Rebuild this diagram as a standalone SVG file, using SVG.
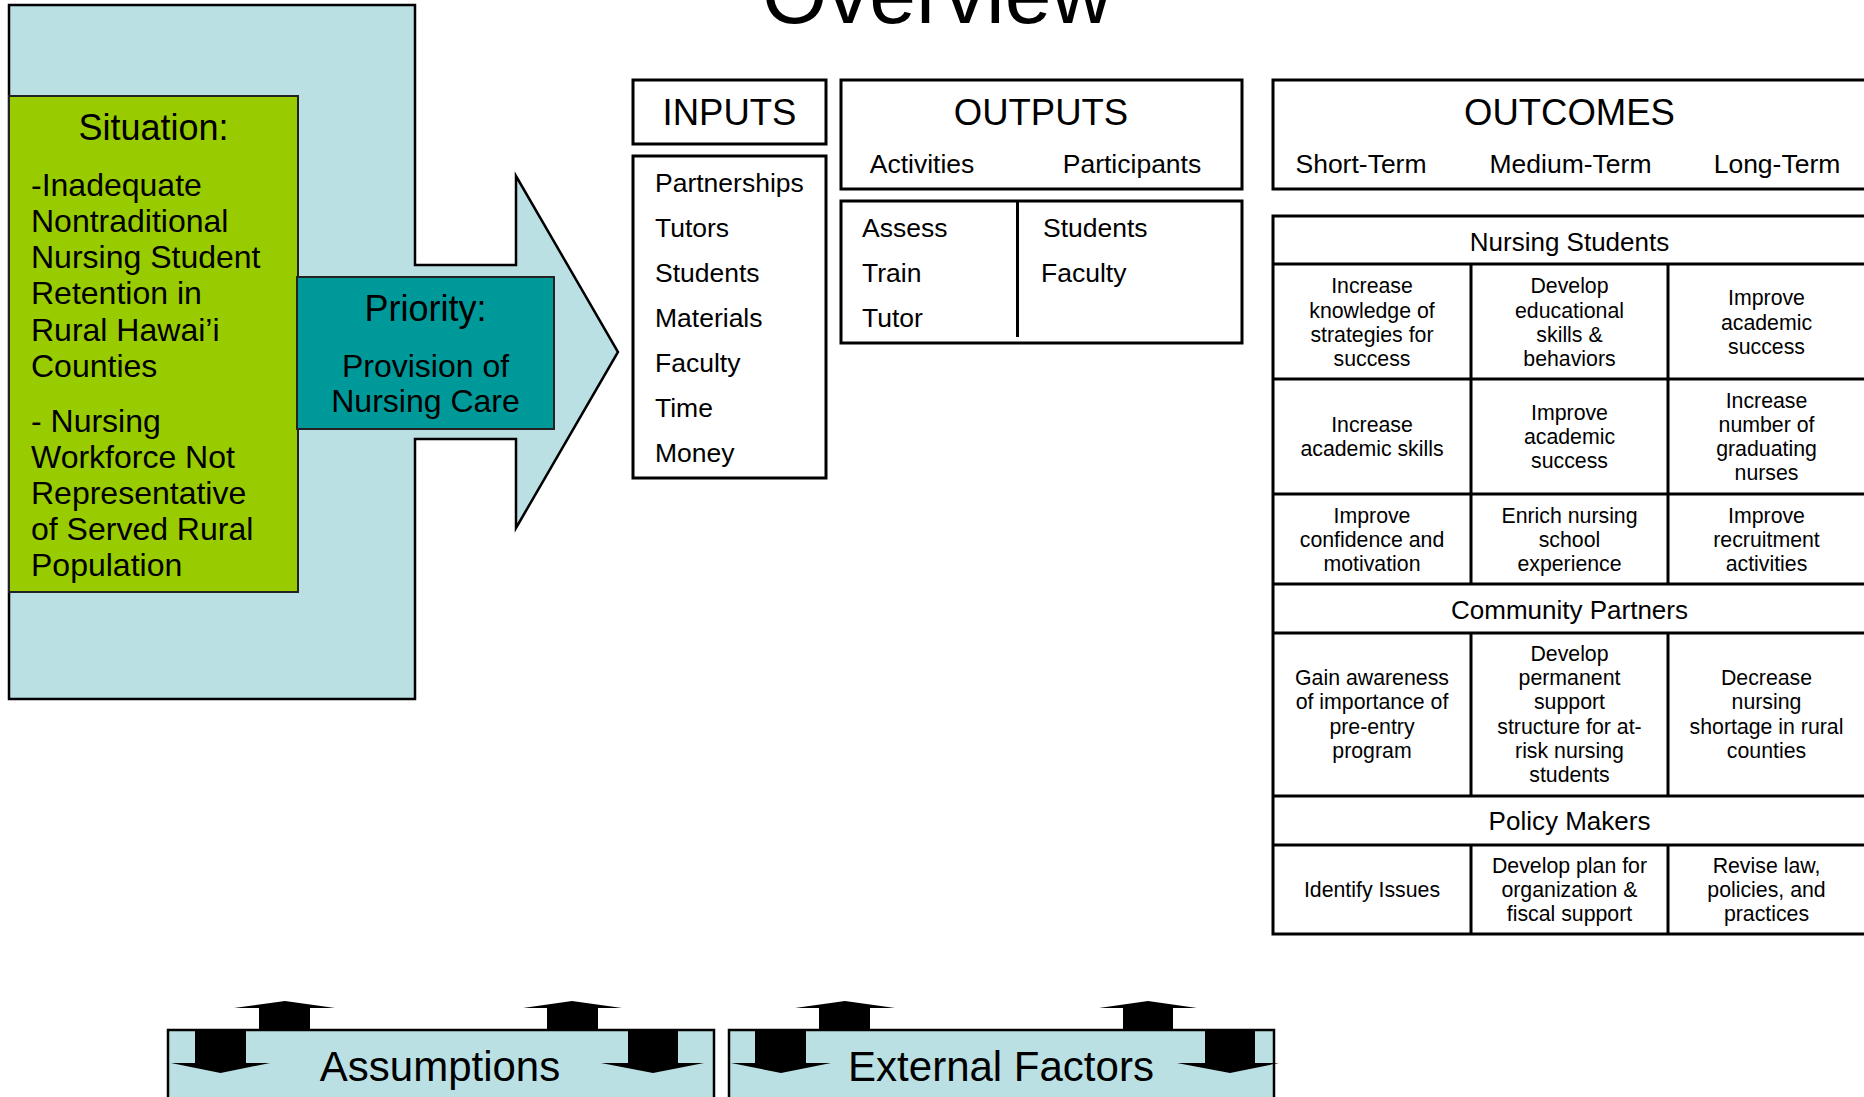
<svg xmlns="http://www.w3.org/2000/svg" width="1864" height="1097" viewBox="0 0 1864 1097">
<style>
text{font-family:"Liberation Sans",Arial,Helvetica,sans-serif;fill:#000}
.box{fill:#fff;stroke:#000;stroke-width:3}
.ln{stroke:#000;stroke-width:3;fill:none}
.h1{font-size:36.5px;text-anchor:middle}
.h2{font-size:26.5px}
.mid{text-anchor:middle}
.cell{font-size:21.3px;text-anchor:middle}
.hdr{font-size:26px;text-anchor:middle}
.big{font-size:32px}
.lab{font-size:36px;text-anchor:middle}
.bot{fill:#BBE0E3;stroke:#000;stroke-width:2.5}
.foot{font-size:42px;text-anchor:middle}
.arr{fill:#000}
</style>
<rect width="1864" height="1097" fill="#fff"/>
<g id="title"><text x="937" y="23" font-size="84" text-anchor="middle">Overview</text></g>

<g id="situation-frame">
<path d="M9,5 H415 V265 H516 V176 L618,352 L516,528 V439 H415 V699 H9 Z" fill="#BBE0E3" stroke="#000" stroke-width="2.5"/>
</g>
<g id="situation">
<rect x="9" y="96" width="289" height="496" fill="#99CC00" stroke="#222" stroke-width="2"/>
<text class="lab" x="153.5" y="140">Situation:</text>
<text class="big" x="31" y="196">-Inadequate</text>
<text class="big" x="31" y="232">Nontraditional</text>
<text class="big" x="31" y="268">Nursing Student</text>
<text class="big" x="31" y="304">Retention in</text>
<text class="big" x="31" y="340.5">Rural Hawai’i</text>
<text class="big" x="31" y="376.5">Counties</text>
<text class="big" x="31" y="431.5">- Nursing</text>
<text class="big" x="31" y="467.5">Workforce Not</text>
<text class="big" x="31" y="503.5">Representative</text>
<text class="big" x="31" y="539.5">of Served Rural</text>
<text class="big" x="31" y="575.5">Population</text>
</g>
<g id="priority">
<rect x="297" y="277" width="257" height="152" fill="#009999" stroke="#222" stroke-width="2"/>
<text class="lab" x="425.5" y="320.5">Priority:</text>
<text class="big mid" x="425.5" y="376.5">Provision of</text>
<text class="big mid" x="425.5" y="411.5">Nursing Care</text>
</g>

<g id="inputs">
<rect class="box" x="633" y="80" width="193" height="64"/>
<text class="h1" x="729.5" y="125">INPUTS</text>
<rect class="box" x="633" y="156" width="193" height="322"/>
<text class="h2" x="655" y="191.5">Partnerships</text>
<text class="h2" x="655" y="236.5">Tutors</text>
<text class="h2" x="655" y="281.5">Students</text>
<text class="h2" x="655" y="326.5">Materials</text>
<text class="h2" x="655" y="371.5">Faculty</text>
<text class="h2" x="655" y="416.5">Time</text>
<text class="h2" x="655" y="461.5">Money</text>
</g>

<g id="outputs">
<rect class="box" x="841" y="80" width="401" height="109"/>
<text class="h1" x="1041" y="124.5">OUTPUTS</text>
<text class="h2 mid" x="922" y="173">Activities</text>
<text class="h2 mid" x="1132" y="173">Participants</text>
<rect class="box" x="841" y="201" width="401" height="142"/>
<line class="ln" x1="1017.5" y1="201" x2="1017.5" y2="337"/>
<text class="h2" x="862" y="236.5">Assess</text>
<text class="h2" x="862" y="281.5">Train</text>
<text class="h2" x="862" y="326.5">Tutor</text>
<text class="h2" x="1043" y="236.5">Students</text>
<text class="h2" x="1041" y="281.5">Faculty</text>
</g>

<g id="outcomes">
<rect class="box" x="1273" y="80" width="600" height="109"/>
<text class="h1" x="1569.5" y="124.5">OUTCOMES</text>
<text class="h2 mid" x="1361" y="173">Short-Term</text>
<text class="h2 mid" x="1570.5" y="173">Medium-Term</text>
<text class="h2 mid" x="1777" y="173">Long-Term</text>
</g>

<g id="outcomes-table">
<rect class="box" x="1273" y="216" width="600" height="718"/>
<path class="ln" d="M1273,264H1873M1273,379H1873M1273,494H1873M1273,584H1873M1273,633H1873M1273,796H1873M1273,845H1873M1471,264V584M1668,264V584M1471,633V796M1668,633V796M1471,845V934M1668,845V934"/>
<text class="hdr" x="1569.5" y="250.5">Nursing Students</text>
<text class="cell" x="1372" y="293">Increase</text>
<text class="cell" x="1372" y="317.5">knowledge of</text>
<text class="cell" x="1372" y="342">strategies for</text>
<text class="cell" x="1372" y="366">success</text>
<text class="cell" x="1569.5" y="293">Develop</text>
<text class="cell" x="1569.5" y="317.5">educational</text>
<text class="cell" x="1569.5" y="342">skills &amp;</text>
<text class="cell" x="1569.5" y="366">behaviors</text>
<text class="cell" x="1766.5" y="305">Improve</text>
<text class="cell" x="1766.5" y="329.5">academic</text>
<text class="cell" x="1766.5" y="354">success</text>

<text class="cell" x="1372" y="432">Increase</text>
<text class="cell" x="1372" y="456">academic skills</text>
<text class="cell" x="1569.5" y="420">Improve</text>
<text class="cell" x="1569.5" y="444">academic</text>
<text class="cell" x="1569.5" y="468">success</text>
<text class="cell" x="1766.5" y="407.5">Increase</text>
<text class="cell" x="1766.5" y="432">number of</text>
<text class="cell" x="1766.5" y="456">graduating</text>
<text class="cell" x="1766.5" y="480">nurses</text>

<text class="cell" x="1372" y="522.5">Improve</text>
<text class="cell" x="1372" y="547">confidence and</text>
<text class="cell" x="1372" y="571">motivation</text>
<text class="cell" x="1569.5" y="522.5">Enrich nursing</text>
<text class="cell" x="1569.5" y="547">school</text>
<text class="cell" x="1569.5" y="571">experience</text>
<text class="cell" x="1766.5" y="522.5">Improve</text>
<text class="cell" x="1766.5" y="547">recruitment</text>
<text class="cell" x="1766.5" y="571">activities</text>

<text class="hdr" x="1569.5" y="618.5">Community Partners</text>
<text class="cell" x="1372" y="685">Gain awareness</text>
<text class="cell" x="1372" y="709">of importance of</text>
<text class="cell" x="1372" y="733.5">pre-entry</text>
<text class="cell" x="1372" y="758">program</text>
<text class="cell" x="1569.5" y="661">Develop</text>
<text class="cell" x="1569.5" y="685">permanent</text>
<text class="cell" x="1569.5" y="709">support</text>
<text class="cell" x="1569.5" y="733.5">structure for at-</text>
<text class="cell" x="1569.5" y="758">risk nursing</text>
<text class="cell" x="1569.5" y="782">students</text>
<text class="cell" x="1766.5" y="685">Decrease</text>
<text class="cell" x="1766.5" y="709">nursing</text>
<text class="cell" x="1766.5" y="733.5">shortage in rural</text>
<text class="cell" x="1766.5" y="758">counties</text>

<text class="hdr" x="1569.5" y="830">Policy Makers</text>
<text class="cell" x="1372" y="897">Identify Issues</text>
<text class="cell" x="1569.5" y="873">Develop plan for</text>
<text class="cell" x="1569.5" y="897">organization &amp;</text>
<text class="cell" x="1569.5" y="921">fiscal support</text>
<text class="cell" x="1766.5" y="873">Revise law,</text>
<text class="cell" x="1766.5" y="897">policies, and</text>
<text class="cell" x="1766.5" y="921">practices</text>
</g>

<g id="assumptions">
<rect class="bot" x="168" y="1030" width="546" height="90"/>
<text class="foot" x="440" y="1080.5">Assumptions</text>
</g>
<g id="external-factors">
<rect class="bot" x="729" y="1030" width="545" height="90"/>
<text class="foot" x="1001" y="1080.5">External Factors</text>
</g>

<g id="connectors">
<polygon class="arr" points="259,1031 259,1008 234,1008 285,1001 335,1008 310,1008 310,1031"/>
<polygon class="arr" points="547,1031 547,1008 523,1008 572,1001 622,1008 598,1008 598,1031"/>
<polygon class="arr" points="195,1031 246,1031 246,1063 270,1063 220.5,1073 171,1063 195,1063"/>
<polygon class="arr" points="628,1031 678,1031 678,1063 704,1063 653,1073 601,1063 628,1063"/>
<polygon class="arr" points="819,1031 819,1008 795,1008 845,1001 895,1008 870,1008 870,1031"/>
<polygon class="arr" points="1123,1031 1123,1008 1099,1008 1148,1001 1197,1008 1173,1008 1173,1031"/>
<polygon class="arr" points="755,1031 806,1031 806,1063 831,1063 781,1073 731,1063 755,1063"/>
<polygon class="arr" points="1205,1031 1255,1031 1255,1063 1279,1063 1230,1073 1177,1063 1205,1063"/>
</g>
</svg>
